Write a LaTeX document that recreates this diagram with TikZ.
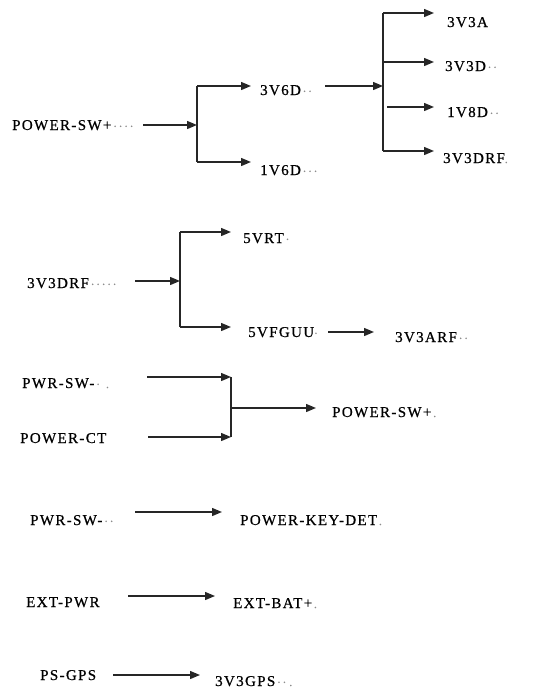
\documentclass[tikz,border=0pt]{standalone}
\usepackage{fontspec}
\setmainfont{Liberation Serif}[LetterSpace=9,FakeBold=0.6]
\usetikzlibrary{arrows.meta}
\newcommand\fmk[1]{{\color{black!45}\fontsize{11}{11}\selectfont#1}}
\begin{document}
\begin{tikzpicture}[x=1pt,y=-1pt,
  lbl/.style={anchor=base west,inner sep=0pt,font=\fontsize{15}{15}\selectfont},
  arr/.style={draw=black!85,line width=1.4pt,-{Triangle[length=10pt,width=8pt]}},
  ln/.style={draw=black!85,line width=1.3pt}]
\useasboundingbox (0,0) rectangle (557,691);
% ---- group 1
\node[lbl] (psw) at (12,130) {POWER-SW+\fmk{\,·\,·\,·\,·}};
\node[lbl] (v36) at (260,95) {3V6D\fmk{\,·\,·}};
\node[lbl] (v16) at (260,175) {1V6D\fmk{\,·\,·\,·}};
\node[lbl] (v33a) at (447,27) {3V3A};
\node[lbl] (v33d) at (445,71) {3V3D\fmk{\,·\,·}};
\node[lbl] (v18d) at (447,117) {1V8D\fmk{\,·\,·}};
\node[lbl] (v33drf) at (443,163) {3V3DRF\fmk{.}};
\coordinate (a1s) at (143,125);
\coordinate (j1) at (197,125);
\coordinate (j1t) at (197,86);
\coordinate (j1b) at (197,162);
\coordinate (t36) at (251,86);
\coordinate (t16) at (251,162);
\draw[arr] (a1s) -- (j1);
\draw[ln] (j1t) -- (j1b);
\draw[arr] (j1t) -- (t36);
\draw[arr] (j1b) -- (t16);
\coordinate (a2s) at (325,86);
\coordinate (j2) at (383,86);
\coordinate (j2t) at (383,13);
\coordinate (j2b) at (383,151);
\draw[arr] (a2s) -- (j2);
\draw[ln] (j2t) -- (j2b);
\draw[arr] (j2t) -- (434,13);
\draw[arr] (383,62) -- (434,62);
\draw[arr] (387,107) -- (434,107);
\draw[arr] (j2b) -- (434,151);
% ---- group 2
\node[lbl] (drf) at (27,288) {3V3DRF\fmk{\,·\,·\,·\,·\,·}};
\node[lbl] (rt) at (243,243) {5VRT\fmk{\,·}};
\node[lbl] (fg) at (248,337) {5VFGUU\fmk{·}};
\node[lbl] (arf) at (395,342) {3V3ARF\fmk{\,·\,·}};
\coordinate (b1s) at (135,281);
\coordinate (k1) at (180,281);
\coordinate (k1t) at (180,232);
\coordinate (k1b) at (180,327);
\draw[arr] (b1s) -- (k1);
\draw[ln] (k1t) -- (k1b);
\draw[arr] (k1t) -- (231,232);
\draw[arr] (k1b) -- (231,327);
\draw[arr] (328,332) -- (374,332);
% ---- group 3
\node[lbl] (pws) at (22,388) {PWR-SW-\fmk{\,·\;\;.}};
\node[lbl] (pct) at (20,443) {POWER-CT};
\node[lbl] (psw2) at (332,417) {POWER-SW+\fmk{\,.}};
\coordinate (m1) at (231,377);
\coordinate (m2) at (231,437);
\coordinate (m0) at (231,408);
\draw[arr] (147,377) -- (m1);
\draw[arr] (148,437) -- (m2);
\draw[ln] (m1) -- (m2);
\draw[arr] (m0) -- (316,408);
% ---- group 4
\node[lbl] (pws2) at (30,525) {PWR-SW-\fmk{\,·\,·}};
\node[lbl] (pkd) at (240,525) {POWER-KEY-DET\fmk{\,.}};
\draw[arr] (135,512) -- (222,512);
\node[lbl] (ext) at (26,607) {EXT-PWR};
\node[lbl] (bat) at (233,608) {EXT-BAT+\fmk{\,.}};
\draw[arr] (128,596) -- (215,596);
\node[lbl] (gps) at (40,680) {PS-GPS};
\node[lbl] (v3g) at (215,686) {3V3GPS\fmk{\,·\,·\;.}};
\draw[arr] (113,675) -- (200,675);
\end{tikzpicture}
\end{document}
